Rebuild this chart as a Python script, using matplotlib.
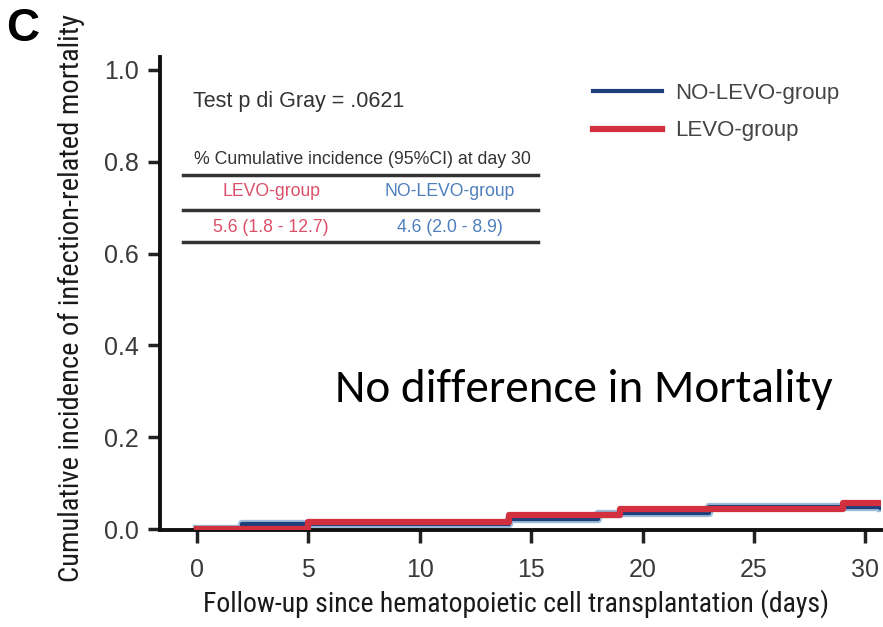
import numpy as np
import matplotlib
matplotlib.use("Agg")
import matplotlib.pyplot as plt

# step data (day, cumulative incidence)
levo_days = [0, 5, 14, 19, 29, 30.7]
levo_ci = [0.0, 0.015, 0.030, 0.043, 0.056, 0.056]
nolevo_days = [0, 2, 14, 18, 19, 23, 30.7]
nolevo_ci = [0.0, 0.011, 0.022, 0.033, 0.035, 0.048, 0.046]

xticks = [0, 5, 10, 15, 20, 25, 30]
yticks = [0.0, 0.2, 0.4, 0.6, 0.8, 1.0]

red = "#d3303f"
navy = "#1d3f7c"
lightblue = "#9dbcd8"
narrow = ["Roboto Condensed", "DejaVu Sans"]
helv = ["Liberation Sans", "DejaVu Sans"]

W, H = 883, 627
fig = plt.figure(figsize=(W / 100, H / 100), dpi=100)
ax = fig.add_axes([160 / W, 1 - 530 / H, 721 / W, 473 / H])

def fx(px):
    return px / W

def fy(py):
    return 1 - py / H

# blue line with a lighter halo, red on top
ax.step(nolevo_days, nolevo_ci, where="post", color=lightblue, lw=6, zorder=2)
nl, = ax.step(nolevo_days, nolevo_ci, where="post", color=navy, lw=3, zorder=3,
              label="NO-LEVO-group")
lv, = ax.step(levo_days, levo_ci, where="post", color=red, lw=4.5, zorder=4,
              label="LEVO-group")

ax.set_xlim(-1.66, 30.7)
ax.set_ylim(-0.002, 1.028)
ax.set_xticks(xticks)
ax.set_yticks(yticks)
ax.set_yticklabels([f"{v:.1f}" for v in yticks])
for lab in ax.get_xticklabels() + ax.get_yticklabels():
    lab.set_family(helv)
for s in ["top", "right"]:
    ax.spines[s].set_visible(False)
for s in ["left", "bottom"]:
    ax.spines[s].set_linewidth(2.8)
    ax.spines[s].set_color("#111111")
ax.tick_params(axis="both", length=9, width=2.5, color="#222222",
               labelsize=18, labelcolor="#3a3a3a", pad=6)
ax.tick_params(axis="x", pad=11)

fig.text(fx(71), fy(298), "Cumulative incidence of infection-related mortality",
         rotation=90, ha="center", va="center", fontsize=20.5,
         family=narrow, color="#1a1a1a")
fig.text(fx(516), fy(604), "Follow-up since hematopoietic cell transplantation (days)",
         ha="center", va="center", fontsize=20, family=narrow, color="#1a1a1a")

fig.text(fx(6), fy(29), "C", fontsize=33, fontweight="bold", ha="left", va="center",
         family=helv)

# inset text / table
fig.text(fx(193), fy(102), "Test p di Gray = .0621", fontsize=15.5, color="#333333",
         ha="left", va="center", family=helv)
fig.text(fx(362), fy(160), "% Cumulative incidence (95%CI) at day 30", fontsize=12.8,
         color="#333333", ha="center", va="center", family=helv)
for yy in [175, 210, 242]:
    ax.plot([fx(183), fx(538)], [fy(yy), fy(yy)], transform=fig.transFigure,
            color="#333333", lw=2.5, clip_on=False)
fig.text(fx(271), fy(192), "LEVO-group", fontsize=12.7, color="#dc4f69",
         ha="center", va="center", family=helv)
fig.text(fx(450), fy(192), "NO-LEVO-group", fontsize=12.7, color="#4f7fbd",
         ha="center", va="center", family=helv)
fig.text(fx(271), fy(227), "5.6 (1.8 - 12.7)", fontsize=12.7, color="#dc4f69",
         ha="center", va="center", family=helv)
fig.text(fx(450), fy(227), "4.6 (2.0 - 8.9)", fontsize=12.7, color="#4f7fbd",
         ha="center", va="center", family=helv)

fig.legend(handles=[nl, lv], loc="upper left", bbox_to_anchor=(fx(593), fy(83)),
           frameon=False, handlelength=3.1, handletextpad=0.6, labelspacing=0.74,
           borderpad=0, borderaxespad=0, labelcolor="#444444",
           prop={"family": helv, "size": 16})

fig.text(fx(335), fy(390), "No difference in Mortality", fontsize=34,
         family=["Carlito", "DejaVu Sans"], ha="left", va="center", color="black")

fig.savefig("out.png", dpi=100)
